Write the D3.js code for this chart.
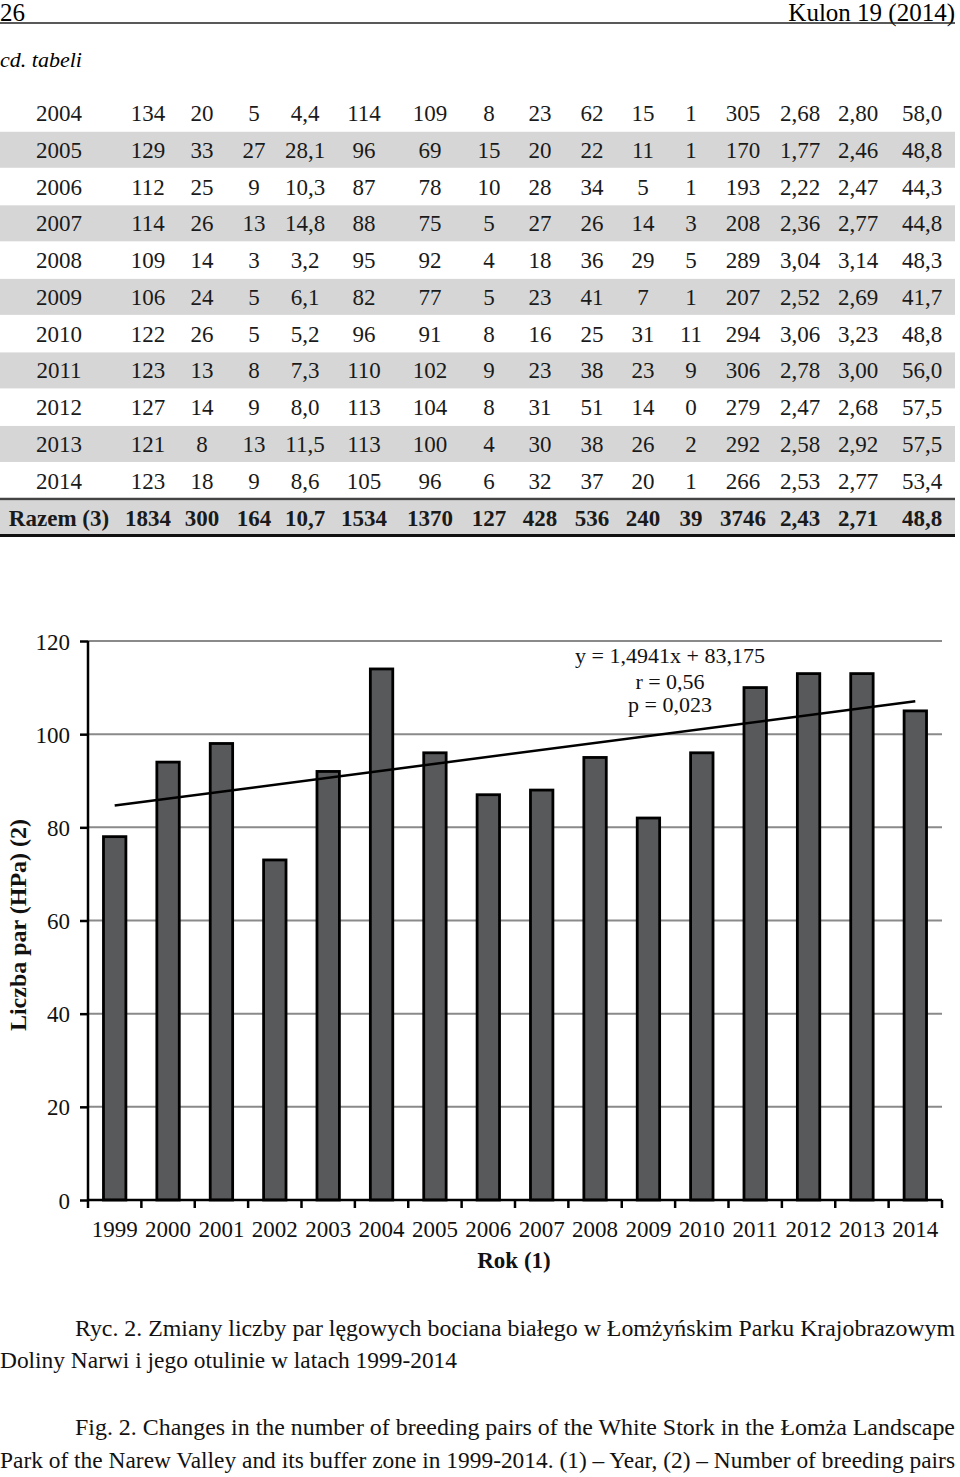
<!DOCTYPE html>
<html>
<head>
<meta charset="utf-8">
<script src="https://cdn.jsdelivr.net/npm/d3@7"></script>
<style>
	body { margin: 0; background: #fff; }
	svg { display: block; font-family: 'Liberation Serif', 'Times New Roman', serif; }
</style>
</head>
<body>
<div id="page"></div>
<script>
const width = 960;
const height = 1477;

// table continuation (rows 2004-2014 + total)
const tableLabels = ['2004', '2005', '2006', '2007', '2008', '2009', '2010', '2011', '2012', '2013', '2014', 'Razem (3)'];
const tableRows = [
	['134', '20', '5', '4,4', '114', '109', '8', '23', '62', '15', '1', '305', '2,68', '2,80', '58,0'],
	['129', '33', '27', '28,1', '96', '69', '15', '20', '22', '11', '1', '170', '1,77', '2,46', '48,8'],
	['112', '25', '9', '10,3', '87', '78', '10', '28', '34', '5', '1', '193', '2,22', '2,47', '44,3'],
	['114', '26', '13', '14,8', '88', '75', '5', '27', '26', '14', '3', '208', '2,36', '2,77', '44,8'],
	['109', '14', '3', '3,2', '95', '92', '4', '18', '36', '29', '5', '289', '3,04', '3,14', '48,3'],
	['106', '24', '5', '6,1', '82', '77', '5', '23', '41', '7', '1', '207', '2,52', '2,69', '41,7'],
	['122', '26', '5', '5,2', '96', '91', '8', '16', '25', '31', '11', '294', '3,06', '3,23', '48,8'],
	['123', '13', '8', '7,3', '110', '102', '9', '23', '38', '23', '9', '306', '2,78', '3,00', '56,0'],
	['127', '14', '9', '8,0', '113', '104', '8', '31', '51', '14', '0', '279', '2,47', '2,68', '57,5'],
	['121', '8', '13', '11,5', '113', '100', '4', '30', '38', '26', '2', '292', '2,58', '2,92', '57,5'],
	['123', '18', '9', '8,6', '105', '96', '6', '32', '37', '20', '1', '266', '2,53', '2,77', '53,4'],
	['1834', '300', '164', '10,7', '1534', '1370', '127', '428', '536', '240', '39', '3746', '2,43', '2,71', '48,8'],
];

// chart data: breeding pairs HPa
const years = ['1999', '2000', '2001', '2002', '2003', '2004', '2005', '2006', '2007', '2008', '2009', '2010', '2011', '2012', '2013', '2014'];
const pairs = [78, 94, 98, 73, 92, 114, 96, 87, 88, 95, 82, 96, 110, 113, 113, 105];
const yTicks = [0, 20, 40, 60, 80, 100, 120];
const trendSlope = 1.4941;
const trendIntercept = 83.175;
const trendLabels = ['y = 1,4941x + 83,175', 'r = 0,56', 'p = 0,023'];

const svg = d3.select('#page').append('svg').attr('width', width).attr('height', height);

// PAGE HEADER =====================================================
svg.append('text').attr('x', 0).attr('y', 21).style('font-size', '25px').text('26');
svg.append('text')
	.attr('x', 955)
	.attr('y', 21)
	.attr('text-anchor', 'end')
	.style('font-size', '25px')
	.text('Kulon 19 (2014)');
svg.append('line').attr('x1', 0).attr('x2', 955).attr('y1', 23).attr('y2', 23).attr('stroke', '#222').attr('stroke-width', 1.5);

svg.append('text')
	.attr('x', 0)
	.attr('y', 67)
	.style('font-size', '22px')
	.style('font-style', 'italic')
	.text('cd. tabeli');

// TABLE ===========================================================
const colX = [59, 148, 202, 254, 305, 364, 430, 489, 540, 592, 643, 691, 743, 800, 858, 922];
const rowY = d3
	.scaleLinear()
	.domain([0, tableLabels.length - 1])
	.range([113, 517.5]);

const table = svg.append('g');

// shaded bands on every second row
tableLabels.forEach((lab, i) => {
	if (i % 2 === 1 && i < tableLabels.length - 1) {
		table.append('rect')
			.attr('x', 0)
			.attr('y', rowY(i) - 18)
			.attr('width', 955)
			.attr('height', 36)
			.attr('fill', '#d6d6d6');
	}
});
const last = tableLabels.length - 1;
table.append('rect').attr('x', 0).attr('y', rowY(last) - 17).attr('width', 955).attr('height', 34).attr('fill', '#d6d6d6');
table.append('line').attr('x1', 0).attr('x2', 955).attr('y1', 499).attr('y2', 499).attr('stroke', '#444').attr('stroke-width', 2.5);
table.append('line').attr('x1', 0).attr('x2', 955).attr('y1', 535.5).attr('y2', 535.5).attr('stroke', '#111').attr('stroke-width', 3);

tableLabels.forEach((lab, i) => {
	const cells = [lab].concat(tableRows[i]);
	table.selectAll(null)
		.data(cells)
		.enter()
		.append('text')
		.attr('x', (d, j) => colX[j])
		.attr('y', rowY(i) + 8)
		.attr('text-anchor', 'middle')
		.style('font-size', '23px')
		.style('font-weight', i === last ? 'bold' : 'normal')
		.attr('fill', '#1a1a1a')
		.text((d) => d);
});

// BAR CHART =======================================================
const plotLeft = 88;
const plotRight = 942;
const plotTop = 641;
const plotBottom = 1200;

const x = d3.scaleBand().domain(years).range([plotLeft, plotRight]).paddingInner(0.58).paddingOuter(0.29);
const y = d3.scaleLinear().domain([0, 120]).range([plotBottom, plotTop]);
const step = (plotRight - plotLeft) / years.length;

const chart = svg.append('g');

// gridlines
chart.append('g')
	.selectAll('line')
	.data(yTicks.filter((d) => d > 0))
	.enter()
	.append('line')
	.attr('x1', plotLeft)
	.attr('x2', plotRight)
	.attr('y1', (d) => y(d))
	.attr('y2', (d) => y(d))
	.attr('stroke', '#8a8a8a')
	.attr('stroke-width', 2);

// bars
chart.append('g')
	.selectAll('rect')
	.data(pairs)
	.enter()
	.append('rect')
	.attr('x', (d, i) => x(years[i]))
	.attr('y', (d) => y(d))
	.attr('width', x.bandwidth())
	.attr('height', (d) => y(0) - y(d))
	.attr('fill', '#58595b')
	.attr('stroke', '#000')
	.attr('stroke-width', 2.8);

// y axis
const yAxis = chart.append('g')
	.attr('transform', `translate(${plotLeft},0)`)
	.call(d3.axisLeft(y).tickValues(yTicks).tickSize(8).tickPadding(10).tickFormat(d3.format('d')));
yAxis.select('.domain').attr('stroke', '#000').attr('stroke-width', 2.5).attr('d', `M0,${plotTop}V${plotBottom}`);
yAxis.selectAll('.tick line').attr('stroke', '#000').attr('stroke-width', 2.5);
yAxis.selectAll('.tick text')
	.style('font-family', "'Liberation Serif', serif")
	.style('font-size', '23px')
	.attr('fill', '#111')
	.attr('dy', '0.35em');

// x axis line with ticks on category boundaries
chart.append('line')
	.attr('x1', plotLeft)
	.attr('x2', plotRight)
	.attr('y1', plotBottom)
	.attr('y2', plotBottom)
	.attr('stroke', '#000')
	.attr('stroke-width', 2.5);
chart.append('g')
	.selectAll('line')
	.data(d3.range(years.length + 1))
	.enter()
	.append('line')
	.attr('x1', (d) => plotLeft + d * step)
	.attr('x2', (d) => plotLeft + d * step)
	.attr('y1', plotBottom)
	.attr('y2', plotBottom + 8)
	.attr('stroke', '#000')
	.attr('stroke-width', 2.5);

chart.append('g')
	.selectAll('text')
	.data(years)
	.enter()
	.append('text')
	.attr('x', (d) => x(d) + x.bandwidth() / 2)
	.attr('y', 1237)
	.attr('text-anchor', 'middle')
	.style('font-size', '23px')
	.attr('fill', '#111')
	.text((d) => d);

// trend line y = a*x + b, x = 1..16
const trendData = [1, years.length].map((k) => ({ year: years[k - 1], value: trendSlope * k + trendIntercept }));
chart.append('path')
	.datum(trendData)
	.attr('d', d3.line().x((d) => x(d.year) + x.bandwidth() / 2).y((d) => y(d.value)))
	.attr('fill', 'none')
	.attr('stroke', '#000')
	.attr('stroke-width', 2.5);

chart.append('g')
	.selectAll('text')
	.data(trendLabels)
	.enter()
	.append('text')
	.attr('x', 670)
	.attr('y', (d, i) => [663, 689, 712][i])
	.attr('text-anchor', 'middle')
	.style('font-size', '22px')
	.attr('fill', '#111')
	.text((d) => d);

// axis titles
chart.append('text')
	.attr('transform', 'translate(26,925) rotate(-90)')
	.attr('text-anchor', 'middle')
	.style('font-size', '24px')
	.style('font-weight', 'bold')
	.attr('fill', '#111')
	.text('Liczba par (HPa) (2)');

chart.append('text')
	.attr('x', 514)
	.attr('y', 1268)
	.attr('text-anchor', 'middle')
	.style('font-size', '23px')
	.style('font-weight', 'bold')
	.attr('fill', '#111')
	.text('Rok (1)');

// CAPTION =========================================================
const captionLines = [
	{ text: 'Ryc. 2.  Zmiany liczby par lęgowych bociana białego w Łomżyńskim Parku Krajobrazowym', x: 75, y: 1336, w: 880 },
	{ text: 'Doliny Narwi i jego otulinie w latach 1999-2014', x: 0, y: 1368, w: 457 },
	{ text: 'Fig. 2. Changes in the number of breeding pairs of the White Stork in the Łomża Landscape', x: 75, y: 1435, w: 880 },
	{ text: 'Park of the Narew Valley and its buffer zone in 1999-2014. (1) – Year, (2) – Number of breeding pairs', x: 0, y: 1468, w: 955 },
];
svg.append('g')
	.selectAll('text')
	.data(captionLines)
	.enter()
	.append('text')
	.attr('x', (d) => d.x)
	.attr('y', (d) => d.y)
	.attr('textLength', (d) => d.w)
	.attr('lengthAdjust', 'spacingAndGlyphs')
	.style('font-size', '22.5px')
	.attr('fill', '#111')
	.text((d) => d.text);
</script>
</body>
</html>
